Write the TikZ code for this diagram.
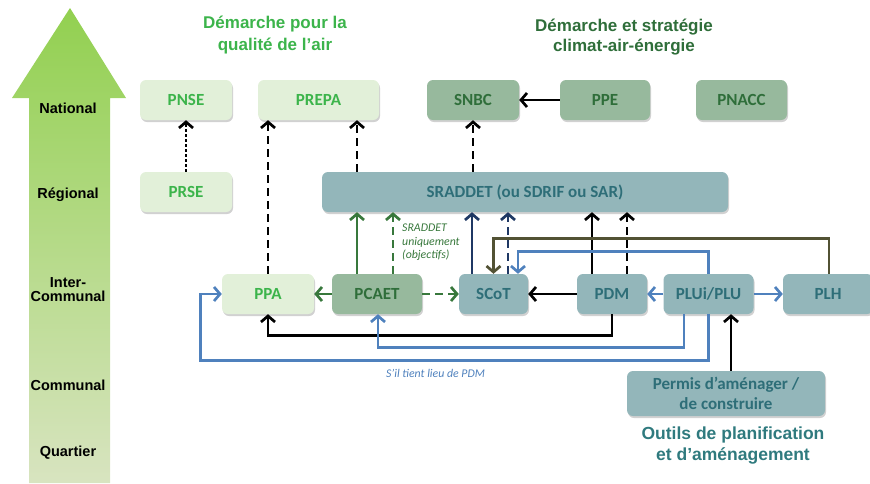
\documentclass[tikz,border=0pt]{standalone}
\usepackage{fontspec}
\setmainfont{Liberation Sans}
\newfontfamily\calib{Carlito}
\usetikzlibrary{arrows.meta,shadows,calc}
\definecolor{airfill}{RGB}{226,240,217}
\definecolor{airtext}{RGB}{60,180,75}
\definecolor{climfill}{RGB}{151,185,157}
\definecolor{climtext}{RGB}{47,110,58}
\definecolor{planfill}{RGB}{147,182,186}
\definecolor{plantext}{RGB}{46,110,120}
\definecolor{outilstext}{RGB}{47,122,126}
\definecolor{garrow}{RGB}{56,120,60}
\definecolor{dbarrow}{RGB}{31,56,100}
\definecolor{lbarrow}{RGB}{79,129,189}
\definecolor{olarrow}{RGB}{82,82,52}
\definecolor{shafttop}{RGB}{146,208,80}
\definecolor{shaftbot}{RGB}{216,228,192}
\tikzset{
  box/.style={rounded corners=6pt, minimum height=40pt, inner sep=0pt,
    font=\calib\bfseries\fontsize{17}{20}\selectfont,
    drop shadow={shadow xshift=1pt, shadow yshift=-2pt, opacity=0.3, fill=black!60}},
  airbox/.style={box, fill=airfill, text=airtext},
  climbox/.style={box, fill=climfill, text=climtext},
  planbox/.style={box, fill=planfill, text=plantext},
  level/.style={font=\bfseries\fontsize{14.5}{17}\selectfont, align=center, text=black},
  conn/.style={line width=2.7pt, -{Straight Barb[length=6pt,width=14pt]}},
  kline/.style={conn, draw=black},
  gline/.style={conn, draw=garrow},
  dbline/.style={conn, draw=dbarrow},
  bline/.style={conn, draw=lbarrow},
  oline/.style={conn, draw=olarrow},
  dashline/.style={dash pattern=on 8pt off 5pt},
  dotline/.style={dash pattern=on 2.5pt off 2.5pt},
  smallnote/.style={font=\calib\itshape\fontsize{11.8}{13.5}\selectfont, inner sep=0pt}
}
\begin{document}
\begin{tikzpicture}[x=1pt,y=-1pt]
\useasboundingbox (0,0) rectangle (870,483);
% level arrow
\shade[top color=shafttop, bottom color=shaftbot]
  (29,483) -- (29,98) -- (12,98) -- (70,8) -- (126,98) -- (110,98) -- (110,483) -- cycle;
\node[level] (lnat) at (68,108) {National};
\node[level] (lreg) at (68,195) {Régional};
\node[level] (lint) at (68,290) {Inter-\\[-3pt]Communal};
\node[level] (lcom) at (68,385) {Communal};
\node[level] (lqua) at (68,453) {Quartier};
% titles
\node[font=\bfseries\fontsize{17}{22}\selectfont, text=airtext, align=center] (tair) at (275,35) {Démarche pour la\\qualité de l’air};
\node[font=\bfseries\fontsize{17}{20}\selectfont, text=climtext, align=center] (tclim) at (624,37) {Démarche et stratégie\\climat-air-énergie};
\node[font=\bfseries\fontsize{17.5}{21}\selectfont, text=outilstext, align=center] (tout) at (733,446) {Outils de planification\\et d’aménagement};
% national
\node[airbox, minimum width=92pt] (PNSE) at (186,100) {PNSE};
\node[airbox, minimum width=121pt] (PREPA) at (318.5,100) {PREPA};
\node[climbox, minimum width=92pt] (SNBC) at (473,100) {SNBC};
\node[climbox, minimum width=90pt] (PPE) at (605,100) {PPE};
\node[climbox, minimum width=91pt] (PNACC) at (741.5,100) {PNACC};
% regional
\node[airbox, minimum width=92pt] (PRSE) at (186,192) {PRSE};
\node[planbox, minimum width=406pt] (SRADDET) at (525,192) {SRADDET (ou SDRIF ou SAR)};
% intercommunal
\node[airbox, minimum width=92pt] (PPA) at (268,294) {PPA};
\node[climbox, minimum width=90pt] (PCAET) at (377,294) {PCAET};
\node[planbox, minimum width=69pt] (SCoT) at (493.5,294) {SCoT};
\node[planbox, minimum width=70pt] (PDM) at (612,294) {PDM};
\node[planbox, minimum width=90pt] (PLUi) at (708.5,294) {PLUi/PLU};
\node[planbox, minimum width=90pt] (PLH) at (828,294) {PLH};
\node[planbox, minimum width=198pt, minimum height=45pt, align=center,
  font=\calib\bfseries\fontsize{17}{20}\selectfont] (Permis) at (726,393.5) {Permis d’aménager /\\de construire};
% connectors national
\draw[kline, dotline] (PRSE.north) -- (PNSE.south);
\draw[kline, dashline] (PPA.north) -- (PPA.north |- PREPA.south);
\coordinate (g1) at ([xshift=-20pt]PCAET.north);
\coordinate (g2) at ([xshift=16pt]PCAET.north);
\draw[kline, dashline] (g1 |- SRADDET.north) -- (g1 |- PREPA.south);
\draw[kline, dashline] (SNBC.south |- SRADDET.north) -- (SNBC.south);
\draw[kline] (PPE.west) -- (SNBC.east);
% PCAET
\draw[gline] (g1) -- (g1 |- SRADDET.south);
\draw[gline, dashline] (g2) -- (g2 |- SRADDET.south);
\node[smallnote, text=garrow, anchor=north west, align=left] (note1) at (402,224) {SRADDET\\uniquement\\(objectifs)};
\draw[gline] (PCAET.west) -- (PPA.east);
\draw[gline, dashline] (PCAET.east) -- (SCoT.west);
% SCoT
\coordinate (s1) at ([xshift=-21.5pt]SCoT.north);
\coordinate (s2) at ([xshift=14.5pt]SCoT.north);
\draw[dbline] (s1) -- (s1 |- SRADDET.south);
\draw[dbline, dashline] (s2) -- (s2 |- SRADDET.south);
% PDM
\coordinate (p1) at ([xshift=-20pt]PDM.north);
\coordinate (p2) at ([xshift=15pt]PDM.north);
\draw[kline] (p1) -- (p1 |- SRADDET.south);
\draw[kline, dashline] (p2) -- (p2 |- SRADDET.south);
\draw[kline] (PDM.west) -- (SCoT.east);
% PLH -> SCoT
\coordinate (h1) at ([xshift=1pt]PLH.north);
\draw[oline] (h1) -- ++(0,-35) -| (SCoT.north);
% PLUi -> SCoT
\draw[bline] (PLUi.north) -- ++(0,-22) -| ([xshift=24.5pt]SCoT.north);
\draw[bline] (PLUi.west) -- (PDM.east);
\draw[bline] (PLUi.east) -- (PLH.west);
% PDM -> PPA
\draw[kline] (PDM.south) -- ++(0,21) -| (PPA.south);
% PLUi -> PCAET
\draw[bline] ([xshift=-24.5pt]PLUi.south) -- ++(0,33) -| ([xshift=1pt]PCAET.south);
% PLUi -> PPA
\draw[bline] (PLUi.south) -- ++(0,46) -| ([xshift=-21pt]PPA.west) -- (PPA.west);
\node[smallnote, text=lbarrow] (note2) at (435.5,373) {S’il tient lieu de PDM};
% Permis -> PLUi
\coordinate (m1) at ([xshift=5pt]Permis.north);
\draw[kline] (m1) -- (m1 |- PLUi.south);
\end{tikzpicture}
\end{document}
